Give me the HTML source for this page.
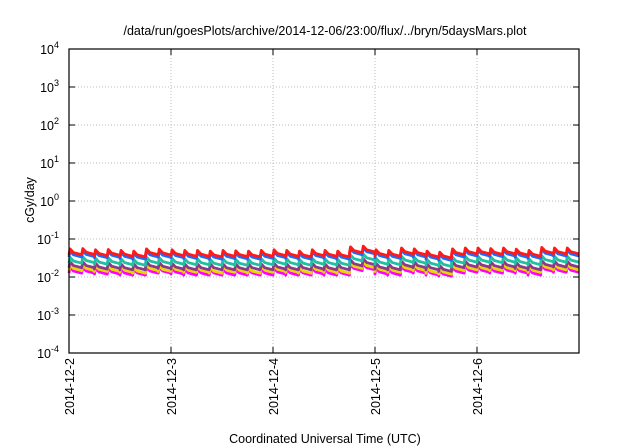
<!DOCTYPE html>
<html><head><meta charset="utf-8"><style>
body{margin:0;background:#fff}
svg{display:block;font-family:"Liberation Sans",sans-serif}
</style></head><body>
<svg id="chart" width="640" height="448">
<text x="325" y="35" font-size="12.5" text-anchor="middle">/data/run/goesPlots/archive/2014-12-06/23:00/flux/../bryn/5daysMars.plot</text>
<text transform="translate(34,200) rotate(-90)" font-size="12.5" text-anchor="middle">cGy/day</text>
<text x="325" y="443" font-size="12.5" text-anchor="middle">Coordinated Universal Time (UTC)</text>
<g id="grid"></g><g id="series"></g><g id="axes"></g>
</svg>
<script>
const dayLabels=["2014-12-2","2014-12-3","2014-12-4","2014-12-5","2014-12-6"];
const yExps=[-4,-3,-2,-1,0,1,2,3,4];
const cyclesPerDay=8;
const decay=0.7;
const red=[55,56,52,53,50,48,55,54,52,50,50,48,50,49,48,50,52,50,48,52,50,48,62,65,52,50,58,55,48,45,55,58,58,56,58,54,50,60,58,58];
const blue=[48,49,46,47,44,42,48,47,46,44,44,42,44,43,42,44,46,44,42,46,44,42,55,58,46,44,51,48,42,39,48,51,51,49,51,47,44,53,51,51];
const teal=[33,34,31,32,30,29,33,32,31,30,30,29,30,29,29,30,31,30,29,31,30,29,38,40,31,30,35,33,29,27,33,35,35,34,35,32,30,36,35,35];
const purple=[25,25,23,24,22,22,25,24,23,22,22,22,22,22,22,22,23,22,22,23,22,22,28,30,23,22,26,25,22,20,25,26,26,25,26,24,22,27,26,26];
const yellow=[21,21,20,20,19,18,21,20,20,19,19,18,19,19,18,19,20,19,18,20,19,18,24,25,20,19,22,21,18,17,21,22,22,21,22,21,19,23,22,22];
const magenta=[18,18,17,17,16,16,18,18,17,16,16,16,16,16,16,16,17,16,16,17,16,16,21,22,17,16,19,18,16,15,18,19,19,18,19,18,16,20,19,19];
const seriesList=[[magenta,"#ff00ff","magenta"],[yellow,"#e8d800","yellow"],[purple,"#8b3a8b","purple"],[teal,"#20c0a0","teal"],[blue,"#1a6cff","blue"],[red,"#ff1a1a","red"]];
const L=69,R=579,T=49,B=353,NS="http://www.w3.org/2000/svg";
const xDay=d=>L+(R-L)*d/5;
const yLog=v=>B-(Math.log10(v)+4)*(B-T)/8;
const grid=document.getElementById('grid'),axes=document.getElementById('axes'),sg=document.getElementById('series');
function mk(tag,attrs,parent){const e=document.createElementNS(NS,tag);for(const k in attrs)e.setAttribute(k,attrs[k]);parent.appendChild(e);return e;}
yExps.forEach(p=>{const y=yLog(Math.pow(10,p));
 if(p>-4&&p<4){const g=mk('line',{x1:L,x2:R,y1:y,y2:y,stroke:'#bbb','stroke-dasharray':'1,2'},grid);
 
 }
 const t=mk('line',{x1:L,x2:L+6,y1:y,y2:y,stroke:'#000'},axes);
 
 
 const t2=mk('line',{x1:R-6,x2:R,y1:y,y2:y,stroke:'#000'},axes);
 
 
 const lb=mk('text',{x:L-10,y:y+5,'font-size':12.5,'text-anchor':'end'},axes);
 
 
 lb.innerHTML='10<tspan dy="-6" font-size="9">'+p+'</tspan>';});
dayLabels.forEach((d,i)=>{const x=xDay(i);
 if(i>0){const g=mk('line',{x1:x,x2:x,y1:T,y2:B,stroke:'#bbb','stroke-dasharray':'1,2'},grid);
 
 }
 const t=mk('line',{x1:x,x2:x,y1:B,y2:B-6,stroke:'#000'},axes);
 
 
 const t2=mk('line',{x1:x,x2:x,y1:T,y2:T+6,stroke:'#000'},axes);
 
 
 const lb=mk('text',{transform:`translate(${x+5},358) rotate(-90)`,'font-size':12.5,'text-anchor':'end'},axes);
 
 
 lb.textContent=d;});
const frame=mk('rect',{x:L,y:T,width:R-L,height:B-T,fill:'none',stroke:'#000','stroke-width':1.2},axes);


seriesList.forEach(([vals,col,nm])=>{let pts=[];
 vals.forEach((v,i)=>{const t0=i/cyclesPerDay,t1=(i+1)/cyclesPerDay;const pv=v/1000;
  pts.push([xDay(t0),yLog(pv*decay)]);pts.push([xDay(t0+0.01),yLog(pv)]);
  pts.push([xDay(t0+(t1-t0)*0.35),yLog(pv*0.8)]);
  pts.push([xDay(t1),yLog(pv*decay)]);});
 const pl=mk('polyline',{points:pts.map(p=>p.join(',')).join(' '),fill:'none',stroke:col,'stroke-width':2.8,'stroke-linejoin':'round'},sg);
 
 });
</script>
</body></html>
